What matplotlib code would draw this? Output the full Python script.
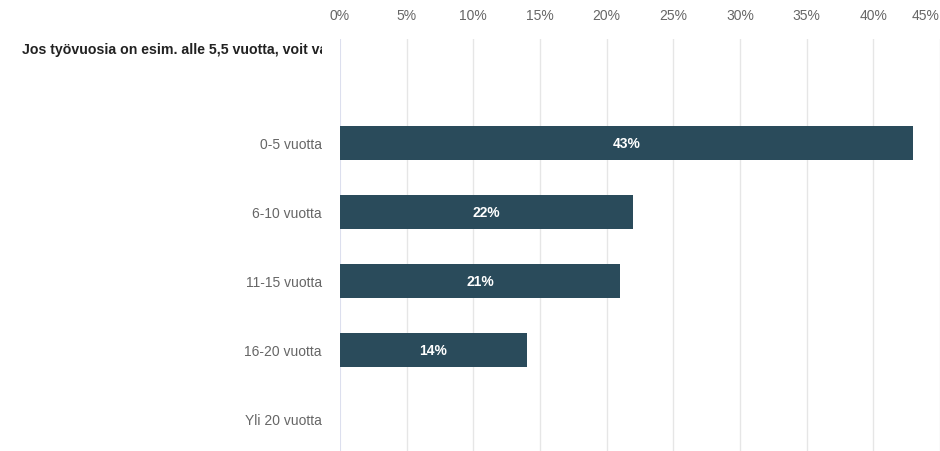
import matplotlib.pyplot as plt
from matplotlib.transforms import Bbox, TransformedBbox

plt.rcParams['font.family'] = ['Liberation Sans', 'DejaVu Sans']

header = "Jos työvuosia on esim. alle 5,5 vuotta, voit valita 0-5 vuotta"
categories = ["0-5 vuotta", "6-10 vuotta", "11-15 vuotta", "16-20 vuotta", "Yli 20 vuotta"]
values = [43, 22, 21, 14, 0]
xticks = [0, 5, 10, 15, 20, 25, 30, 35, 40, 45]

bar_color = "#2a4b5b"

fig = plt.figure(figsize=(9.4, 4.52), dpi=100)
ax = fig.add_axes([340 / 940, 0, 600 / 940, 412 / 452])

ypos = list(range(len(categories)))
ax.barh(ypos, values, height=0.48, color=bar_color, zorder=3)
for y, v in zip(ypos, values):
    if v > 0:
        ax.text(v / 2, y, f"{v}%", ha="center", va="center", color="white",
                fontsize=10, fontweight="bold", zorder=4)

ax.set_xlim(0, 45)
ax.set_ylim(4.464, -1.507)
ax.set_xticks(xticks)
ax.set_xticklabels([f"{t}%" for t in xticks])
ax.xaxis.tick_top()
ax.tick_params(axis="x", length=0, pad=12, labelsize=10, labelcolor="#666666")
ax.get_xticklabels()[-1].set_horizontalalignment("right")
ax.set_yticks(ypos)
ax.set_yticklabels(categories)
ax.tick_params(axis="y", length=0, pad=13, labelsize=10, labelcolor="#666666")

for t in xticks[1:]:
    ax.axvline(t, color="#e6e6e6", linewidth=1, zorder=1)
ax.axvline(0, color="#dcdfee", linewidth=1.5, zorder=2)

for s in ax.spines.values():
    s.set_visible(False)

txt = fig.text(22 / 940, 1 - 50 / 452, header, ha="left", va="center",
               fontsize=10.2, fontweight="bold", color="#222222")
txt.set_clip_box(TransformedBbox(Bbox([[0, 0], [322 / 940, 1]]), fig.transFigure))
txt.set_clip_on(True)

fig.savefig("out.png", dpi=100)
